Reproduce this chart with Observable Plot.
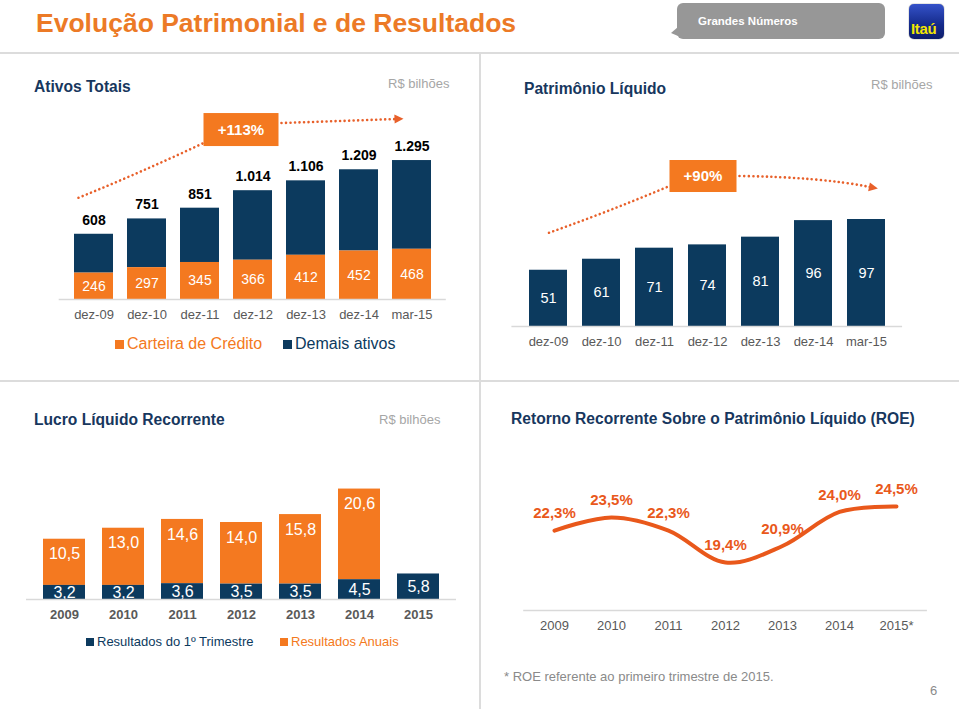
<!DOCTYPE html>
<html><head><meta charset="utf-8">
<script src="https://cdn.jsdelivr.net/npm/d3@7"></script>
<script src="https://cdn.jsdelivr.net/npm/@observablehq/plot@0.6"></script>
<style>
body{margin:0;background:#fff;font-family:"Liberation Sans",Arial,Helvetica,sans-serif;}
#page{position:relative;width:959px;height:709px;overflow:hidden;background:#fff;}
.abs{position:absolute;white-space:nowrap;line-height:1;}
.ptitle{font-weight:bold;font-size:15.6px;color:#17375e;}
.unit{font-size:13px;color:#a6a6a6;}
.hline{position:absolute;left:0;width:959px;height:1.5px;background:#dcdcdc;}
.vline{position:absolute;width:1.5px;background:#dcdcdc;}
.sq{display:inline-block;width:9px;height:9px;margin-right:3px;vertical-align:0px;}
.chart{position:absolute;}
#badge{position:absolute;left:677px;top:3px;width:208px;height:36px;background:#979797;border-radius:6px;}
#badge:before{content:"";position:absolute;left:-6px;top:24px;border-top:6px solid transparent;border-right:7px solid #979797;border-bottom:3px solid transparent;}
#logo{position:absolute;left:909px;top:4px;width:35px;height:35px;border-radius:5px;background:linear-gradient(#3552c9,#142a8a 60%,#0d1d6b);box-shadow:0 0 1px #000;}
</style></head>
<body><div id="page">
<div class="abs" style="left:36px;top:10px;font-size:26.5px;font-weight:bold;color:#ec7a26;">Evolução Patrimonial e de Resultados</div>
<div id="badge"><div class="abs" style="left:21px;top:13px;font-size:11.5px;font-weight:bold;color:#fff;">Grandes Números</div></div>
<div id="logo"><div class="abs" style="left:2px;top:17px;font-size:15px;font-weight:bold;color:#f3e600;letter-spacing:-0.3px;">Itaú</div></div>
<div class="hline" style="top:52px;"></div>
<div class="hline" style="top:380px;"></div>
<div class="vline" style="left:479px;top:53px;height:656px;"></div>

<div class="abs ptitle" style="left:34px;top:79px;">Ativos Totais</div>
<div class="abs unit" style="left:388px;top:77px;">R$ bilhões</div>
<div class="abs ptitle" style="left:524px;top:81px;">Patrimônio Líquido</div>
<div class="abs unit" style="left:871px;top:78px;">R$ bilhões</div>
<div class="abs ptitle" style="left:34px;top:412px;">Lucro Líquido Recorrente</div>
<div class="abs unit" style="left:379px;top:413px;">R$ bilhões</div>
<div class="abs ptitle" style="left:511px;top:411px;">Retorno Recorrente Sobre o Patrimônio Líquido (ROE)</div>

<div class="abs" style="left:115px;top:336px;font-size:16px;color:#f47920;"><span class="sq" style="background:#f47920"></span>Carteira de Crédito</div>
<div class="abs" style="left:283px;top:336px;font-size:16px;color:#0c3a5e;"><span class="sq" style="background:#0c3a5e"></span>Demais ativos</div>
<div class="abs" style="left:86px;top:635px;font-size:13px;color:#0c3a5e;"><span class="sq" style="background:#0c3a5e;width:8px;height:8px;"></span>Resultados do 1º Trimestre</div>
<div class="abs" style="left:280px;top:635px;font-size:13px;color:#f47920;"><span class="sq" style="background:#f47920;width:8px;height:8px;"></span>Resultados Anuais</div>
<div class="abs" style="left:504px;top:670px;font-size:13px;color:#8a8a8a;">* ROE referente ao primeiro trimestre de 2015.</div>
<div class="abs" style="left:930px;top:684px;font-size:13px;color:#8a8a8a;">6</div>

<div id="cA" class="chart" style="left:0px;top:100px;"></div>
<div id="cB" class="chart" style="left:480px;top:100px;"></div>
<div id="cC" class="chart" style="left:0px;top:440px;"></div>
<div id="cD" class="chart" style="left:480px;top:440px;"></div>
</div>
<script>
// ---------- data ----------
const periods = ["dez-09", "dez-10", "dez-11", "dez-12", "dez-13", "dez-14", "mar-15"];
const carteiraCredito = [246, 297, 345, 366, 412, 452, 468];
const ativosTotais = [608, 751, 851, 1014, 1106, 1209, 1295];
const crescimentoAtivos = "+113%";
const patrimonioLiquido = [51, 61, 71, 74, 81, 96, 97];
const crescimentoPL = "+90%";
const anos = ["2009", "2010", "2011", "2012", "2013", "2014", "2015"];
const lucroTrimestre = [3.2, 3.2, 3.6, 3.5, 3.5, 4.5, 5.8];
const lucroAnual = [10.5, 13.0, 14.6, 14.0, 15.8, 20.6, null];
const anosROE = ["2009", "2010", "2011", "2012", "2013", "2014", "2015*"];
const roe = [22.3, 23.5, 22.3, 19.4, 20.9, 24.0, 24.5];

// ---------- helpers ----------
const ORANGE = "#f47920", NAVY = "#0c3a5e", ROEC = "#e9581b", ANN = "#e8602a";
const FONT = '"Liberation Sans", Arial, Helvetica, sans-serif';
const fmtThousands = n => String(n).replace(/\B(?=(\d{3})+(?!\d))/g, ".");
const fmtDec = v => v.toFixed(1).replace(".", ",");
const fmtPct = v => fmtDec(v) + "%";
function domainFor(h, mt, mb, ppu, min = 0) { return [min, min + (h - mt - mb) / ppu]; }
function scalesOf(chart) {
  const sx = chart.scale("x"), sy = chart.scale("y");
  let fx, fy;
  if (typeof sx.apply === "function") fx = v => sx.apply(v) + (sx.bandwidth || 0) / 2;
  else {
    const b = d3.scaleBand(sx.domain, sx.range)
      .paddingInner(sx.paddingInner ?? sx.padding ?? 0)
      .paddingOuter(sx.paddingOuter ?? sx.padding ?? 0).align(sx.align ?? 0.5);
    fx = v => b(v) + b.bandwidth() / 2;
  }
  if (typeof sy.apply === "function") fy = v => sy.apply(v);
  else fy = d3.scaleLinear(sy.domain, sy.range);
  return {fx, fy};
}
const pt = p => `${p[0]},${p[1]}`;
function arrowHead(g, from, tip) {
  const dx = tip[0] - from[0], dy = tip[1] - from[1], L = Math.hypot(dx, dy);
  const ux = dx / L, uy = dy / L, px = -uy, py = ux;
  const bx = tip[0] - ux * 9, by = tip[1] - uy * 9;
  g.append("path").attr("d", `M${tip[0]},${tip[1]}L${bx + px * 4.5},${by + py * 4.5}L${bx - px * 4.5},${by - py * 4.5}Z`)
    .attr("fill", ANN);
}
function annotate(svg, o) {
  const g = d3.select(svg).append("g");
  const dotted = p => g.append("path").attr("d", p).attr("fill", "none").attr("stroke", ANN)
    .attr("stroke-width", 2.6).attr("stroke-linecap", "round").attr("stroke-dasharray", "0.01 4.5");
  dotted(`M${pt(o.start)} Q${pt(o.c1)} ${pt(o.leftEnd)}`);
  dotted(`M${pt(o.rightStart)} Q${pt(o.c2)} ${pt(o.end)}`);
  // arrow tip a little beyond the dotted line end, along its final direction
  const dx = o.end[0] - o.c2[0], dy = o.end[1] - o.c2[1], L = Math.hypot(dx, dy);
  const tip = [o.end[0] + dx / L * 8, o.end[1] + dy / L * 8];
  arrowHead(g, o.end, tip);
  g.append("rect").attr("x", o.cx - o.w / 2).attr("y", o.cy - o.h / 2).attr("width", o.w).attr("height", o.h).attr("fill", ORANGE);
  g.append("text").attr("x", o.cx).attr("y", o.cy).attr("dy", "0.36em").attr("text-anchor", "middle")
    .attr("fill", "white").attr("font-weight", "bold").attr("font-size", 15).attr("font-family", FONT).text(o.label);
}
const baseStyle = {fontFamily: FONT, fontSize: "13px", color: "#595959", background: "transparent", overflow: "visible"};

// ---------- A: Ativos Totais ----------
const A = {w: 480, h: 250, ml: 58.7, mr: 34.2, mt: 20, mb: 51, ppu: 0.1073};
const dataA = periods.map((p, i) => ({p, credito: carteiraCredito[i], total: ativosTotais[i]}));
const chartA = Plot.plot({
  width: A.w, height: A.h, marginLeft: A.ml, marginRight: A.mr, marginTop: A.mt, marginBottom: A.mb,
  style: baseStyle,
  x: {domain: periods, padding: 0.268, tickSize: 0, tickPadding: 10, label: null},
  y: {domain: domainFor(A.h, A.mt, A.mb, A.ppu), axis: null},
  marks: [
    Plot.barY(dataA, {x: "p", y1: "credito", y2: "total", fill: NAVY}),
    Plot.barY(dataA, {x: "p", y1: d => 0, y2: "credito", fill: ORANGE}),
    Plot.ruleY([0], {stroke: "#d9d9d9", strokeWidth: 1.5}),
    Plot.text(dataA, {x: "p", y: d => d.credito / 2, text: d => String(d.credito), fill: "white", fontSize: 14}),
    Plot.text(dataA, {x: "p", y: "total", dy: -14, text: d => fmtThousands(d.total), fill: "#000", fontSize: 14, fontWeight: "bold"})
  ]
});
document.getElementById("cA").append(chartA);
{
  const {fx, fy} = scalesOf(chartA);
  const n = periods.length - 1, tmax = ativosTotais[n];
  const cx = (fx(periods[2]) + fx(periods[3])) / 2 + 15, cy = fy(tmax) - 30.5, w = 75, h = 33;
  const start = [fx(periods[0]) - 15, fy(ativosTotais[0]) - 36];
  const leftEnd = [cx - w / 2, cy + h / 2 - 3];
  const rightStart = [cx + w / 2 + 3, cy - h / 2 + 10];
  const end = [fx(periods[n]) - 16, fy(tmax) - 41];
  annotate(chartA, {cx, cy, w, h, label: crescimentoAtivos, start, leftEnd, rightStart, end,
    c1: [(start[0] + leftEnd[0]) / 2, (start[1] + leftEnd[1]) / 2 + 2],
    c2: [(rightStart[0] + end[0]) / 2, (rightStart[1] + end[1]) / 2]});
}

// ---------- B: Patrimônio Líquido ----------
const B = {w: 479, h: 260, ml: 31.4, mr: 56.9, mt: 20, mb: 34, ppu: 1.103};
const dataB = periods.map((p, i) => ({p, v: patrimonioLiquido[i]}));
const chartB = Plot.plot({
  width: B.w, height: B.h, marginLeft: B.ml, marginRight: B.mr, marginTop: B.mt, marginBottom: B.mb,
  style: baseStyle,
  x: {domain: periods, padding: 0.291, tickSize: 0, tickPadding: 10, label: null},
  y: {domain: domainFor(B.h, B.mt, B.mb, B.ppu), axis: null},
  marks: [
    Plot.barY(dataB, {x: "p", y: "v", fill: NAVY}),
    Plot.ruleY([0], {stroke: "#d9d9d9", strokeWidth: 1.5}),
    Plot.text(dataB, {x: "p", y: d => d.v / 2, text: d => String(d.v), fill: "white", fontSize: 14.5})
  ]
});
document.getElementById("cB").append(chartB);
{
  const {fx, fy} = scalesOf(chartB);
  const n = periods.length - 1, vmax = patrimonioLiquido[n];
  const cx = (fx(periods[2]) + fx(periods[3])) / 2 + 22.5, cy = fy(vmax) - 43, w = 67, h = 32;
  const start = [fx(periods[0]) + 1, fy(patrimonioLiquido[0]) - 37];
  const leftEnd = [cx - w / 2, cy + h / 2 - 6];
  const rightStart = [cx + w / 2 + 3, cy];
  const end = [fx(periods[n]) + 4, fy(vmax) - 32];
  annotate(chartB, {cx, cy, w, h, label: crescimentoPL, start, leftEnd, rightStart, end,
    c1: [(start[0] + leftEnd[0]) / 2, (start[1] + leftEnd[1]) / 2 + 2],
    c2: [(rightStart[0] + end[0]) / 2 + 15, rightStart[1] + 1]});
}

// ---------- C: Lucro Líquido Recorrente ----------
const C = {w: 480, h: 200, ml: 26, mr: 24, mt: 10, mb: 41, ppu: 4.4};
const dataC = anos.map((a, i) => ({a, q: lucroTrimestre[i], an: lucroAnual[i]}));
const dataCA = dataC.filter(d => d.an != null);
const chartC = Plot.plot({
  width: C.w, height: C.h, marginLeft: C.ml, marginRight: C.mr, marginTop: C.mt, marginBottom: C.mb,
  style: {...baseStyle, fontWeight: "bold"},
  x: {domain: anos, padding: 0.288, tickSize: 0, tickPadding: 10, label: null},
  y: {domain: domainFor(C.h, C.mt, C.mb, C.ppu), axis: null},
  marks: [
    Plot.barY(dataCA, {x: "a", y1: "q", y2: d => d.q + d.an, fill: ORANGE}),
    Plot.barY(dataC, {x: "a", y1: d => 0, y2: "q", fill: NAVY}),
    Plot.ruleY([0], {stroke: "#d9d9d9", strokeWidth: 1.5}),
    Plot.text(dataC, {x: "a", y: d => d.q / 2, text: d => fmtDec(d.q), fill: "white", fontSize: 16, fontWeight: "normal", clip: true}),
    Plot.text(dataCA, {x: "a", y: d => d.q + d.an, dy: 15, text: d => fmtDec(d.an), fill: "white", fontSize: 16, fontWeight: "normal"})
  ]
});
document.getElementById("cC").append(chartC);

// ---------- D: ROE ----------
const D = {w: 479, h: 200, ml: 43.2, mr: 32.1, mt: 20, mb: 30, ppu: 11, min: 15.04};
const dataD = anosROE.map((a, i) => ({a, v: roe[i]}));
const yD = domainFor(D.h, D.mt, D.mb, D.ppu, D.min);
const chartD = Plot.plot({
  width: D.w, height: D.h, marginLeft: D.ml, marginRight: D.mr, marginTop: D.mt, marginBottom: D.mb,
  style: baseStyle,
  x: {type: "point", domain: anosROE, padding: 0.5, tickSize: 0, tickPadding: 10, label: null},
  y: {domain: yD, axis: null},
  marks: [
    Plot.ruleY([yD[0]], {stroke: "#d9d9d9", strokeWidth: 1.5}),
    Plot.line(dataD, {x: "a", y: "v", stroke: ROEC, strokeWidth: 4, curve: "catmull-rom"}),
    Plot.text(dataD, {x: "a", y: "v", dy: -17, text: d => fmtPct(d.v), fill: ROEC, fontSize: 15, fontWeight: "bold"})
  ]
});
document.getElementById("cD").append(chartD);
</script>
</body></html>
